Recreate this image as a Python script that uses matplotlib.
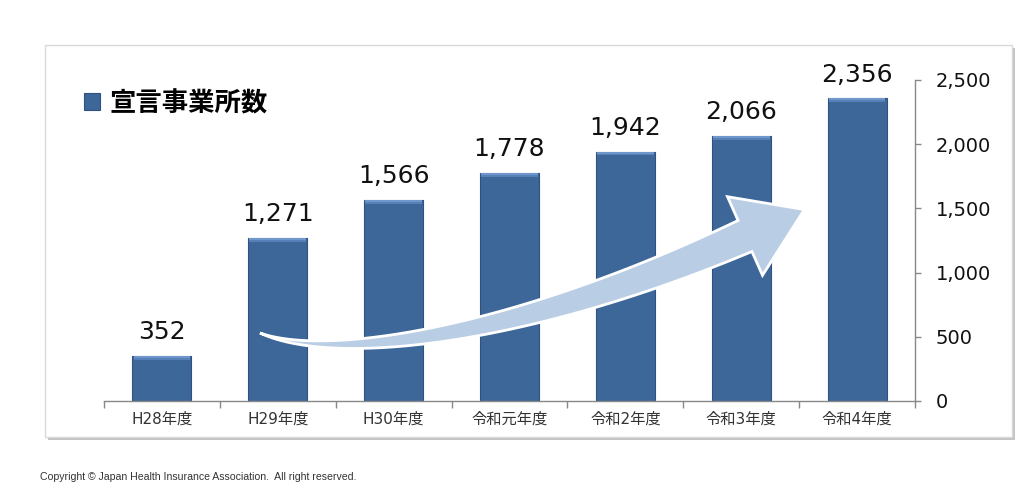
import numpy as np
import matplotlib
matplotlib.use('Agg')
import matplotlib.pyplot as plt
from matplotlib.patches import Rectangle, Polygon
from matplotlib.ticker import FuncFormatter, FixedLocator

plt.rcParams['font.family'] = ['DejaVu Sans', 'Noto Sans CJK JP']

# data
years = ['H28年度', 'H29年度', 'H30年度', '令和元年度', '令和2年度', '令和3年度', '令和4年度']
counts = np.array([352, 1271, 1566, 1778, 1942, 2066, 2356])
series_name = '宣言事業所数'
y_ticks = [0, 500, 1000, 1500, 2000, 2500]

W, H = 1024, 495
fig = plt.figure(figsize=(W / 100, H / 100), dpi=100)

def px(x, y):
    # pixel (from top-left) -> figure fraction
    return x / W, 1 - y / H

# chart frame with drop shadow
x0, y0 = px(45, 437)
fw, fh = (1012 - 45) / W, (437 - 45) / H
fig.patches.append(Rectangle((x0 + 3 / W, y0 - 3 / H), fw, fh, transform=fig.transFigure,
                             facecolor='#c4c4c4', edgecolor='none', zorder=-3))
fig.patches.append(Rectangle((x0, y0), fw, fh, transform=fig.transFigure,
                             facecolor='white', edgecolor='#d9d9d9', lw=1, zorder=-2))

left, bottom = px(104, 401)
right, top = px(915, 80)
ax = fig.add_axes([left, bottom, right - left, top - bottom])
ax.patch.set_visible(False)

x = np.arange(len(years))
bars = ax.bar(x, counts, width=0.51, color='#3d6699', edgecolor='#2f5282', lw=0.8,
              label=series_name, zorder=2)
# light bevel on the bar tops
bevel = 30
ax.bar(x, np.full(len(x), bevel), bottom=counts - bevel, width=0.49, color='#6f97cb',
       edgecolor='none', zorder=3)
ax.bar(x, np.full(len(x), bevel / 2), bottom=counts - bevel, width=0.49, color='#5580b8',
       edgecolor='none', zorder=3)

for xi, v in zip(x, counts):
    ax.annotate(f'{v:,}', (xi, v), xytext=(0, 12), textcoords='offset points',
                ha='center', va='baseline', fontsize=18, color='#111111', zorder=6)

ax.set_xlim(-0.5, len(years) - 0.5)
ax.set_ylim(0, 2500)
ax.set_xticks(x)
ax.set_xticklabels(years, fontsize=11, color='#333333')
ax.xaxis.set_minor_locator(FixedLocator(np.arange(-0.5, len(years), 1.0)))
ax.tick_params(axis='x', which='major', length=0, pad=8)
ax.tick_params(axis='x', which='minor', length=5, color='#888888', width=1)

ax.yaxis.tick_right()
ax.set_yticks(y_ticks)
ax.yaxis.set_major_formatter(FuncFormatter(lambda v, p: f'{int(v):,}'))
ax.tick_params(axis='y', length=4, color='#888888', width=1, pad=11, labelsize=14,
               labelcolor='#111111')

for s in ['left', 'top']:
    ax.spines[s].set_visible(False)
for s in ['bottom', 'right']:
    ax.spines[s].set_color('#888888')
    ax.spines[s].set_linewidth(1)

# curved block arrow (decoration), built in pixel space
P = np.array([[260, 333], [330, 362], [520, 337], [745, 236]], dtype=float)
t = np.linspace(0, 1, 80)
c = ((1 - t) ** 3)[:, None] * P[0] + (3 * (1 - t) ** 2 * t)[:, None] * P[1] \
    + (3 * (1 - t) * t ** 2)[:, None] * P[2] + (t ** 3)[:, None] * P[3]
d = np.gradient(c, axis=0)
d /= np.linalg.norm(d, axis=1)[:, None]
n = np.column_stack([-d[:, 1], d[:, 0]])
half = 17 * t ** 1.1
upper = c + n * half[:, None]
lower = c - n * half[:, None]
T, N = d[-1], n[-1]
base = P[3]
head = [base + N * 43, base + T * 65, base - N * 43]
pts = np.vstack([upper, head, lower[::-1]])
pts_f = np.column_stack([pts[:, 0] / W, 1 - pts[:, 1] / H])
arrow = Polygon(pts_f, closed=True, transform=fig.transFigure, facecolor='#b9cde5',
                edgecolor='white', lw=2, zorder=4, clip_on=False)
ax.add_patch(arrow)

# legend
fig.legend(handles=[bars], labels=[series_name], loc='center left',
           bbox_to_anchor=px(84, 104), frameon=False, borderpad=0, borderaxespad=0,
           handlelength=0.6, handleheight=0.6, handletextpad=0.35,
           prop={'size': 19, 'weight': 'bold'})

fig.text(40 / W, 1 - 477 / H, 'Copyright © Japan Health Insurance Association.  All right reserved.',
         fontsize=7.6, color='#333333', va='center', ha='left', family='Liberation Sans')

fig.savefig('out.png', dpi=100)
